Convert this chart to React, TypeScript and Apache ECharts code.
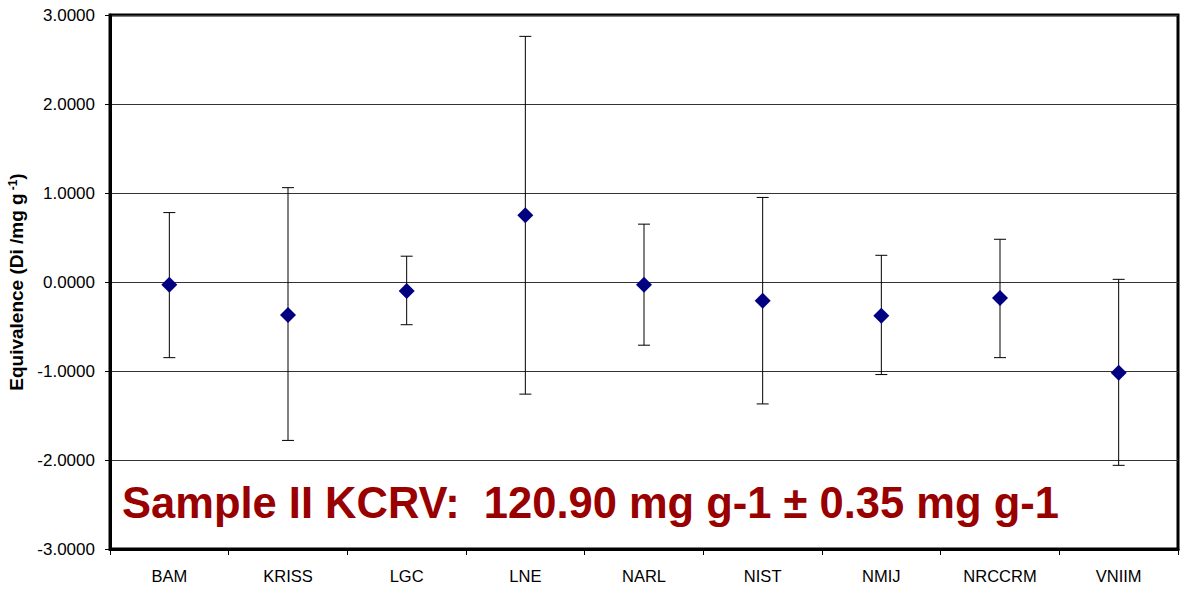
import React, { useEffect, useRef } from "react";
import * as echarts from "echarts";

const categories = ["BAM", "KRISS", "LGC", "LNE", "NARL", "NIST", "NMIJ", "NRCCRM", "VNIIM"];
const values = [-0.03, -0.37, -0.10, 0.75, -0.03, -0.21, -0.38, -0.18, -1.02];
const upper = [0.78, 1.06, 0.29, 2.76, 0.65, 0.95, 0.30, 0.48, 0.03];
const lower = [-0.85, -1.78, -0.48, -1.26, -0.71, -1.37, -1.04, -0.85, -2.06];
const yTicks = { min: -3, max: 3, interval: 1 };
const annotation = "Sample II KCRV:  120.90 mg g-1 \u00b1 0.35 mg g-1";

const FONT = "Arial, 'Liberation Sans', sans-serif";

export default function App() {
  const ref = useRef<HTMLDivElement>(null);
  useEffect(() => {
    if (!ref.current) return;
    const chart = echarts.init(ref.current, null, { renderer: "svg" });
    const errData = categories.map((c, i) => [i, lower[i], upper[i]]);
    chart.setOption({
      animation: false,
      backgroundColor: "#ffffff",
      grid: {
        left: 110,
        right: 3,
        top: 15,
        bottom: 40,
        containLabel: false,
        outerBoundsMode: "none",
        show: true,
        borderColor: "#000",
        borderWidth: 3,
        backgroundColor: "transparent",
      },
      xAxis: {
        type: "category",
        data: categories,
        boundaryGap: true,
        axisLine: { onZero: false, lineStyle: { color: "#000", width: 3 } },
        axisTick: { show: true, alignWithLabel: false, length: 6, lineStyle: { color: "#000", width: 1 } },
        axisLabel: { color: "#000", fontFamily: FONT, fontSize: 16.5, margin: 18 },
        splitLine: { show: false },
      },
      yAxis: {
        type: "value",
        min: yTicks.min,
        max: yTicks.max,
        interval: yTicks.interval,
        axisLine: { show: true, onZero: false, lineStyle: { color: "#000", width: 3 } },
        axisTick: { show: true, length: 5, lineStyle: { color: "#000", width: 1 } },
        axisLabel: {
          color: "#000",
          fontFamily: FONT,
          fontSize: 17,
          margin: 15,
          formatter: (v: number) => v.toFixed(4),
        },
        splitLine: { show: true, lineStyle: { color: "#333", width: 1 } },
        name: "Equivalence (Di /mg g{sup|-1})",
        nameLocation: "middle",
        nameGap: 82,
        nameRotate: 90,
        nameTextStyle: {
          color: "#000",
          fontFamily: FONT,
          fontWeight: "bold",
          fontSize: 19,
          rich: {
            sup: { fontSize: 12, fontWeight: "bold", verticalAlign: "top", padding: [0, 0, 8, 3], color: "#000", fontFamily: FONT },
          },
        },
      },
      series: [
        {
          type: "custom",
          data: errData,
          z: 2,
          renderItem: (params: any, api: any) => {
            const x = api.value(0);
            const lo = api.coord([x, api.value(1)]);
            const hi = api.coord([x, api.value(2)]);
            const half = 6;
            const style = { stroke: "#000", lineWidth: 1 };
            return {
              type: "group",
              children: [
                { type: "line", shape: { x1: lo[0], y1: lo[1], x2: hi[0], y2: hi[1] }, style },
                { type: "line", shape: { x1: lo[0] - half, y1: lo[1], x2: lo[0] + half, y2: lo[1] }, style },
                { type: "line", shape: { x1: hi[0] - half, y1: hi[1], x2: hi[0] + half, y2: hi[1] }, style },
              ],
            };
          },
        },
        {
          type: "scatter",
          data: values,
          symbol: "diamond",
          symbolSize: 16,
          z: 3,
          itemStyle: { color: "#000080", opacity: 1 },
        },
      ],
      graphic: [
        {
          type: "text",
          left: 122,
          top: 481,
          z: 10,
          style: {
            text: annotation,
            fill: "#990000",
            fontFamily: FONT,
            fontWeight: "bold",
            fontSize: 43.5,
          },
        },
      ],
    });
    return () => chart.dispose();
  }, []);
  return <div ref={ref} style={{ position: "fixed", left: 0, top: 0, width: 1181, height: 589, background: "#fff" }} />;
}
